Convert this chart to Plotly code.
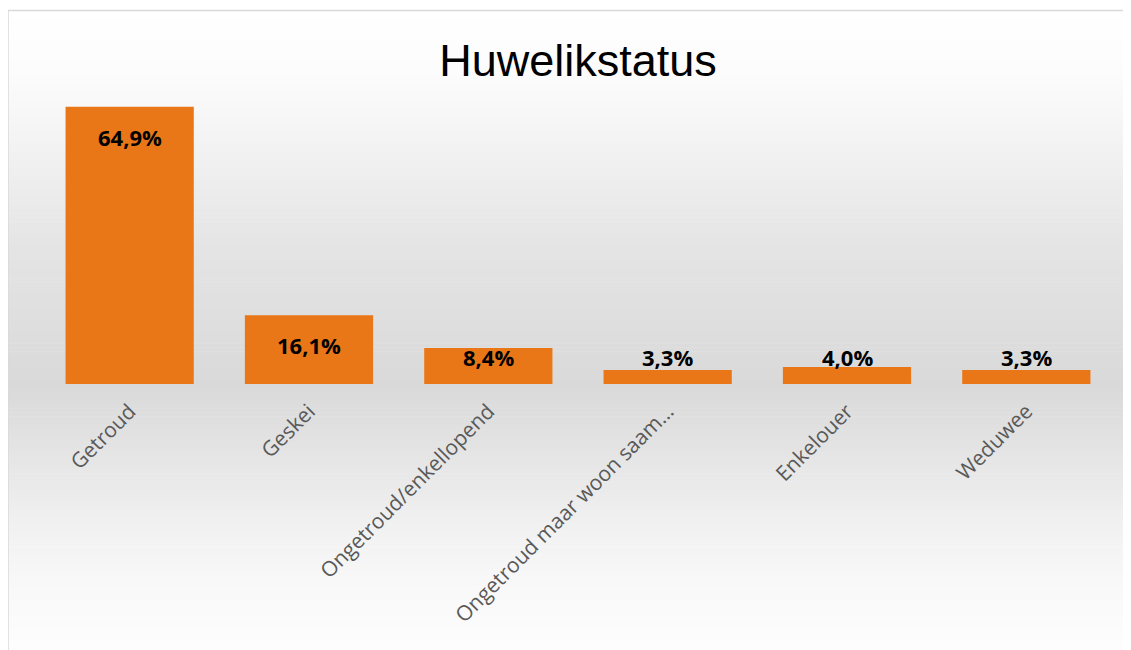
import plotly.graph_objects as go

categories = ["Getroud", "Geskei", "Ongetroud/enkellopend",
              "Ongetroud maar woon saam…", "Enkelouer", "Weduwee"]
values = [64.9, 16.1, 8.4, 3.3, 4.0, 3.3]
labels = ["64,9%", "16,1%", "8,4%", "3,3%", "4,0%", "3,3%"]

W, H = 1131, 650
OFF = 8  # page body margin
L, R, T, B = 40 - OFF, 15 + OFF, 85 - OFF, 266 + OFF
plot_h = H - T - B
plot_w = W - L - R


def py(y):
    # y in page pixels -> paper coords
    return (H - B - (y - OFF)) / plot_h


def px(x):
    return (x - OFF - L) / plot_w


fig = go.Figure()

# background gradient (white -> gray -> white)
stops = [(10, 255), (70, 252), (150, 242), (250, 228), (384, 217),
         (450, 228), (520, 240), (580, 248), (660, 254)]


def gray_at(y):
    for (y0, g0), (y1, g1) in zip(stops, stops[1:]):
        if y0 <= y <= y1:
            return g0 + (g1 - g0) * (y - y0) / (y1 - y0)
    return 255


shapes = []
n = 160
y_top, y_bot = 10, 660
step = (y_bot - y_top) / n
for i in range(n):
    a = y_top + i * step
    b = a + step + 0.6
    g = int(round(gray_at(a + step / 2)))
    shapes.append(dict(type="rect", xref="paper", yref="paper", layer="below",
                       x0=px(7.5), x1=px(W + 20), y0=py(b), y1=py(a),
                       line=dict(width=0), fillcolor=f"rgb({g},{g},{g})"))
# chart border
shapes.append(dict(type="rect", xref="paper", yref="paper", layer="below",
                   x0=px(8), x1=px(W + 20), y0=py(H + 20), y1=py(10.5),
                   line=dict(width=1.5, color="#d9d9d9"), fillcolor="rgba(0,0,0,0)"))

fig.add_trace(go.Bar(
    x=categories, y=values,
    marker=dict(color="#e97718", line=dict(width=0)),
    hoverinfo="skip",
))

annotations = []
for c, v, t in zip(categories, values, labels):
    annotations.append(dict(
        x=c, y=max(v - 7.0, 6.3), xref="x", yref="y", text=f"<b>{t}</b>",
        showarrow=False, yanchor="middle",
        font=dict(family="Open Sans", size=22, color="#000000")))

fig.update_layout(
    width=W, height=H,
    margin=dict(l=L, r=R, t=T, b=B),
    paper_bgcolor="white",
    plot_bgcolor="rgba(0,0,0,0)",
    bargap=0.285,
    showlegend=False,
    shapes=shapes,
    annotations=annotations,
    title=dict(text="Huwelikstatus", x=0.5, xanchor="center", xref="paper",
               y=1 - (60 - OFF) / H, yanchor="middle",
               font=dict(family="Liberation Sans, Arial", size=45, color="#000000")),
    xaxis=dict(tickangle=-45, showgrid=False, showline=False, zeroline=False,
               ticks="", ticklabelstandoff=10,
               tickfont=dict(family="Open Sans", size=21, color="#595959")),
    yaxis=dict(range=[0, 70], visible=False, showgrid=False, zeroline=False),
)

fig.write_html("out.html")
